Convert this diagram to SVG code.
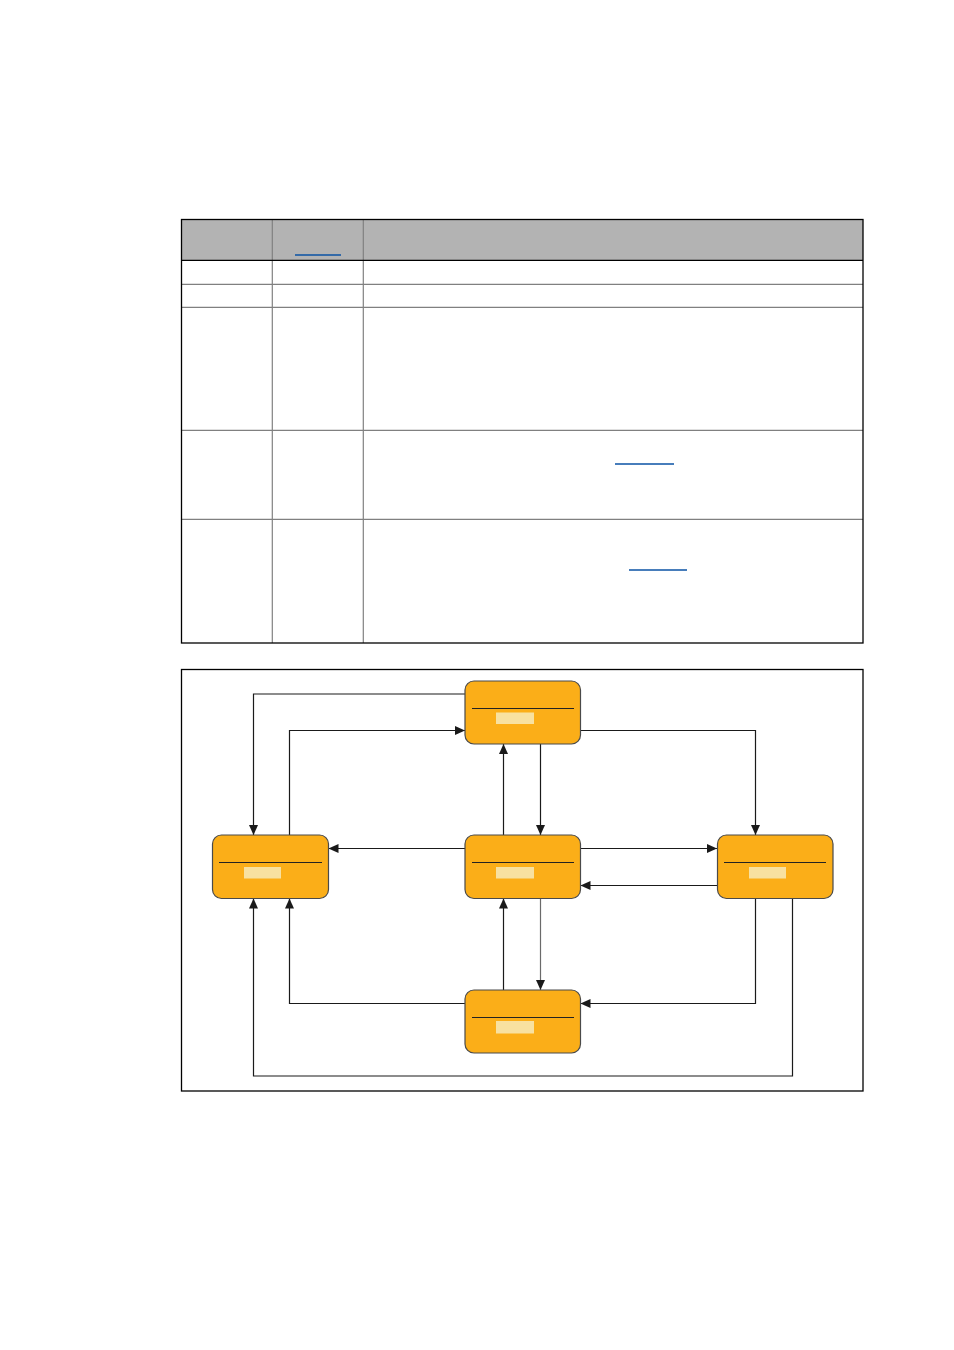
<svg xmlns="http://www.w3.org/2000/svg" width="954" height="1350" viewBox="0 0 954 1350">
<style>
.grid{stroke:#808080;stroke-width:1.2;fill:none}
.border{stroke:#000;stroke-width:1.3;fill:none}
.link{stroke:#0a52a5;stroke-width:1.3}
.node{fill:#fbae18;stroke:#4a4a4a;stroke-width:1.2}
.sep{stroke:#222;stroke-width:1.2}
.hl{fill:#f8e1a0}
.conn{stroke:#1a1a1a;stroke-width:1.2;fill:none;marker-end:url(#arr)}
</style>
<defs>
<marker id="arr" viewBox="0 0 10 10" refX="10" refY="5" markerWidth="10" markerHeight="10" markerUnits="userSpaceOnUse" orient="auto">
<path d="M0,0.5 L10,5 L0,9.5 Z" fill="#1a1a1a"/>
</marker>
</defs>
<rect width="954" height="1350" fill="#fff"/>
<g id="table">
<rect x="181.5" y="219.5" width="681.5" height="40.5" fill="#b3b3b3"/>
<line class="grid" x1="181.5" y1="284.3" x2="863" y2="284.3"/>
<line class="grid" x1="181.5" y1="307.3" x2="863" y2="307.3"/>
<line class="grid" x1="181.5" y1="430.3" x2="863" y2="430.3"/>
<line class="grid" x1="181.5" y1="519.3" x2="863" y2="519.3"/>
<line class="grid" x1="272.3" y1="219.5" x2="272.3" y2="643"/>
<line class="grid" x1="363.3" y1="219.5" x2="363.3" y2="643"/>
<line class="border" x1="181.5" y1="260.3" x2="863" y2="260.3"/>
<rect class="border" x="181.5" y="219.5" width="681.5" height="423.5"/>
<line class="link" x1="295" y1="255" x2="341" y2="255"/>
<line class="link" x1="615" y1="464" x2="674" y2="464"/>
<line class="link" x1="629" y1="570" x2="687" y2="570"/>
</g>
<rect id="frame" class="border" x="181.5" y="669.5" width="681.5" height="421.5"/>
<g id="connectors">
<path class="conn" d="M465,694 H253.5 V835"/>
<path class="conn" d="M289.5,835 V730.5 H465"/>
<path class="conn" d="M580.5,730.5 H755.5 V835"/>
<path class="conn" d="M503.5,835 V744"/>
<path class="conn" d="M540.5,744 V835"/>
<path class="conn" d="M465,848.5 H328.5"/>
<path class="conn" d="M580.5,848.5 H717"/>
<path class="conn" d="M717,885.5 H580.5"/>
<path class="conn" d="M503.5,990 V898.5"/>
<path class="conn" d="M540.5,898.5 V990" style="stroke:#6a6a6a"/>
<path class="conn" d="M465,1003.5 H289.5 V898.5"/>
<path class="conn" d="M755.5,898.5 V1003.5 H580.5"/>
<path class="conn" d="M792.5,898.5 V1076 H253.5 V898.5"/>
</g>
<g id="node-top">
<rect class="node" x="465" y="681" width="115.5" height="63" rx="9"/>
<line class="sep" x1="472" y1="708.5" x2="574" y2="708.5"/>
<rect class="hl" x="496" y="712.5" width="38" height="11.5"/>
</g>
<g id="node-left">
<rect class="node" x="212.5" y="835" width="116" height="63.5" rx="9"/>
<line class="sep" x1="219" y1="862.5" x2="322" y2="862.5"/>
<rect class="hl" x="244" y="867" width="37" height="11.5"/>
</g>
<g id="node-center">
<rect class="node" x="465" y="835" width="115.5" height="63.5" rx="9"/>
<line class="sep" x1="472" y1="862.5" x2="574" y2="862.5"/>
<rect class="hl" x="496" y="867" width="38" height="11.5"/>
</g>
<g id="node-right">
<rect class="node" x="717.5" y="835" width="115.5" height="63.5" rx="9"/>
<line class="sep" x1="724" y1="862.5" x2="826" y2="862.5"/>
<rect class="hl" x="749" y="867" width="37" height="11.5"/>
</g>
<g id="node-bottom">
<rect class="node" x="465" y="990" width="115.5" height="63" rx="9"/>
<line class="sep" x1="472" y1="1017.5" x2="574" y2="1017.5"/>
<rect class="hl" x="496" y="1021" width="38" height="12.5"/>
</g>
</svg>
